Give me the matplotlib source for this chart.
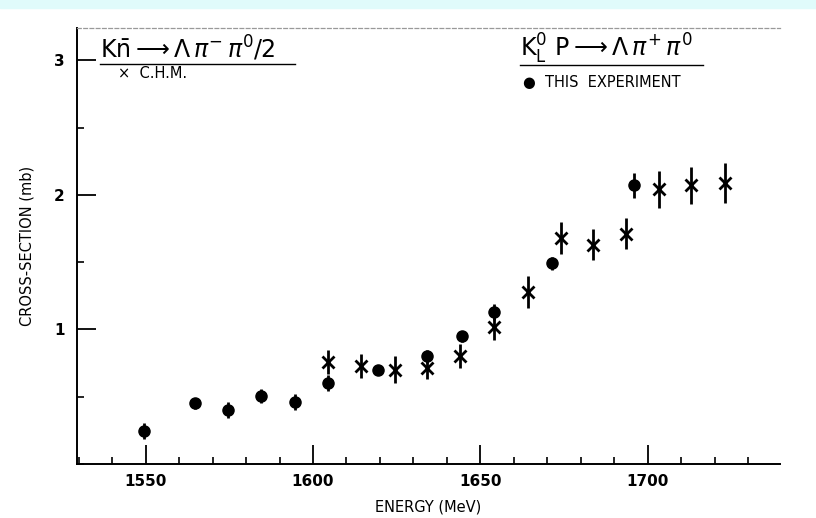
import matplotlib
matplotlib.use("Agg")
import matplotlib.pyplot as plt
from matplotlib.ticker import MultipleLocator

# this experiment (K_L p -> Lambda pi+ pi0)
exp_energy = [1549.5, 1564.7, 1574.7, 1584.6, 1594.6, 1604.4, 1619.3, 1634.0,
              1644.4, 1654.0, 1671.4, 1696.0]
exp_sigma = [0.245, 0.45, 0.40, 0.505, 0.46, 0.60, 0.70, 0.80, 0.95, 1.13, 1.49, 2.07]
exp_err = [0.06, 0.04, 0.06, 0.05, 0.06, 0.06, 0.03, 0.05, 0.04, 0.06, 0.05, 0.09]

# C.H.M. (K-n -> Lambda pi- pi0 / 2)
chm_energy = [1604.4, 1614.2, 1624.4, 1634.0, 1644.0, 1654.0, 1664.3, 1674.0,
              1683.6, 1693.5, 1703.4, 1713.0, 1723.0]
chm_sigma = [0.76, 0.73, 0.70, 0.71, 0.80, 1.02, 1.28, 1.68, 1.63, 1.71, 2.04, 2.07, 2.09]
chm_err = [0.09, 0.09, 0.10, 0.08, 0.09, 0.10, 0.12, 0.12, 0.115, 0.115, 0.14, 0.14, 0.15]

x_ticks = [1550, 1600, 1650, 1700]
y_ticks = [1, 2, 3]

fig = plt.figure(figsize=(8.16, 5.18), dpi=100)
fig.patches.append(plt.Rectangle((0, 1 - 8 / 518), 1, 8 / 518, transform=fig.transFigure,
                                 color="#e0fbfb", zorder=0))
ax = fig.add_axes([77 / 816, 54 / 518, 703 / 816, 436 / 518])

ax.errorbar(exp_energy, exp_sigma, yerr=exp_err, fmt="o", color="black", ms=8,
            elinewidth=2, capsize=0)
ax.errorbar(chm_energy, chm_sigma, yerr=chm_err, fmt="x", color="black", ms=8, mew=2,
            elinewidth=2, capsize=0)

ax.set_xlim(1529.5, 1739.5)
ax.set_ylim(0, 3.24)
ax.set_xticks(x_ticks)
ax.set_yticks(y_ticks)
ax.xaxis.set_minor_locator(MultipleLocator(10))
ax.yaxis.set_minor_locator(MultipleLocator(0.5))
ax.tick_params(which="major", direction="in", length=14, width=1.3, labelsize=11)
ax.tick_params(which="minor", direction="in", length=5, width=1.2)
ax.tick_params(axis="x", top=False, pad=7)
ax.tick_params(axis="y", right=False, pad=9)
for lab in ax.get_xticklabels() + ax.get_yticklabels():
    lab.set_fontweight("bold")

ax.spines["right"].set_visible(False)
ax.spines["top"].set_color("#999999")
ax.spines["top"].set_linestyle((0, (3, 2)))
ax.spines["top"].set_linewidth(0.9)
ax.spines["left"].set_linewidth(1.4)
ax.spines["bottom"].set_linewidth(1.4)

ax.set_xlabel("ENERGY (MeV)", fontsize=10.5, labelpad=8)
ax.set_ylabel("CROSS-SECTION (mb)", fontsize=10.5, labelpad=14)

# legend-like annotations
ax.text(0.033, 0.952, r"$\mathrm{K\bar{n}} \longrightarrow \Lambda\,\pi^{-}\,\pi^{0}/2$",
        transform=ax.transAxes, fontsize=17, va="center", ha="left")
ax.plot([0.033, 0.31], [0.918, 0.918], color="black", lw=1, transform=ax.transAxes)
ax.text(0.058, 0.895, "×  C.H.M.", transform=ax.transAxes, fontsize=10.5,
        va="center", ha="left")

ax.text(0.63, 0.952, r"$\mathrm{K_L^0\ P} \longrightarrow \Lambda\,\pi^{+}\,\pi^{0}$",
        transform=ax.transAxes, fontsize=17, va="center", ha="left")
ax.plot([0.63, 0.89], [0.914, 0.914], color="black", lw=1, transform=ax.transAxes)
ax.text(0.634, 0.876, "●  THIS  EXPERIMENT", transform=ax.transAxes, fontsize=10.5,
        va="center", ha="left")

fig.savefig("out.png", dpi=100)
